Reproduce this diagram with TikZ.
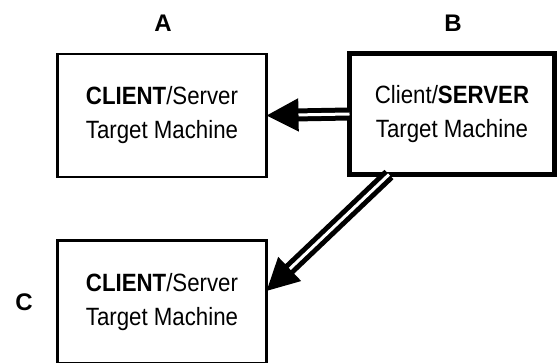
\documentclass[tikz,border=0pt]{standalone}
\usepackage{fontspec}
\setmainfont{Liberation Sans}
\newfontfamily\narrowfont{Liberation Sans}[FakeStretch=0.89]
\usetikzlibrary{arrows.meta}

\begin{document}
\begin{tikzpicture}[x=1pt,y=1pt,
	machine/.style={draw,line width=2.5pt,minimum width=209pt,minimum height=123pt,inner sep=0,outer sep=0,align=center,font=\narrowfont\fontsize{25}{34}\selectfont},
	tag/.style={font=\fontsize{24}{28}\selectfont\bfseries},
	link/.style={double,double distance=3pt,line width=5pt,-{Triangle[length=32pt,width=32pt]}}]
	\useasboundingbox (0,0) rectangle (558,363);
	\node[machine] (a) at (162,247.5) {\textbf{CLIENT}/Server\\Target Machine};
	\node[machine,line width=5pt,minimum width=205pt,minimum height=121pt] (b) at (452,249) {Client/\textbf{SERVER}\\Target Machine};
	\node[machine] (c) at (162,61) {\textbf{CLIENT}/Server\\Target Machine};
	\node[tag] (la) at (163,340) {A};
	\node[tag] (lb) at (453,340) {B};
	\node[tag] (lc) at (24,61) {C};
	\coordinate (from) at ([xshift=-63pt]b.south);
	\coordinate (to) at ([yshift=11pt]c.east);
	\draw[link] (b.west) -- (a.east);
	\draw[link] (from) -- (to);
\end{tikzpicture}
\end{document}
